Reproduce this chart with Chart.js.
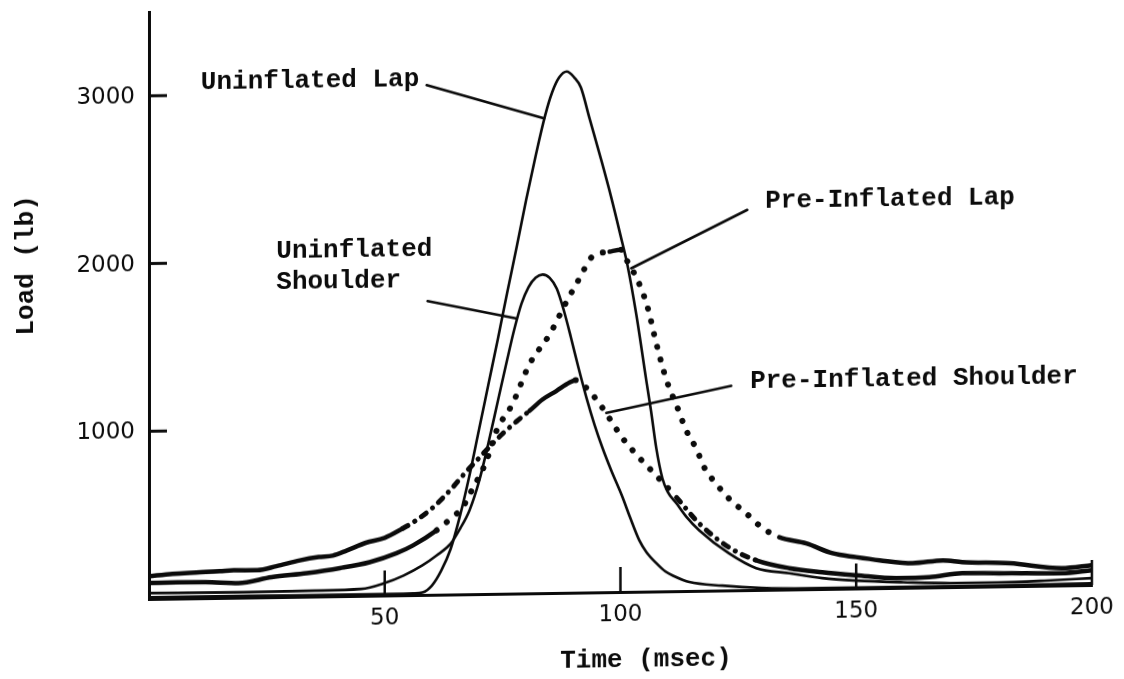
<!DOCTYPE html>
<html>
<head>
<meta charset="utf-8">
<title>Belt load vs time</title>
<script src="https://cdn.jsdelivr.net/npm/chart.js@4.4.1/dist/chart.umd.min.js"></script>
<style>
  html, body { margin: 0; padding: 0; background: #fff; overflow: hidden; }
  #wrap { width: 1124px; height: 679px; }
  /* the printed sheet sits a little out of square */
  #chart { display: block; transform: skewY(-0.85deg); transform-origin: 148px 599px; }
</style>
</head>
<body>
<div id="wrap"><canvas id="chart" width="1124" height="679"></canvas></div>
<script>
/* ─── Load (lb) against time (msec) for four belt configurations ─── */

const X_TICKS = [50, 100, 150, 200];
const Y_TICKS = [1000, 2000, 3000];

// Uninflated lap belt
const UL_TIME = [0, 20, 40, 52, 56, 58, 60, 62, 64, 66, 68, 70, 72, 74, 76, 78, 80, 82, 84, 85.5, 87, 88.6,
  90.2, 91.6, 93.4, 96, 98, 100, 101.5, 103.4, 105.5, 106.5, 107.6, 108.9, 110, 111.9, 114, 116.7, 123,
  128.8, 135.8, 142.8, 150, 160, 170, 180, 190, 200];
const UL_LOAD = [10, 10, 8, 8, 10, 15, 55, 144, 273, 472, 711, 981, 1250, 1519, 1798, 2067, 2346, 2606, 2845, 2984, 3073, 3108,
  3072, 3012, 2831, 2570, 2359, 2128, 1947, 1647, 1256, 1075, 855, 674, 594, 523, 442, 361, 221,
  130, 97, 65, 47, 33, 24, 24, 30, 41];

// Uninflated shoulder belt
const US_TIME = [0, 20, 35, 45, 50, 54, 58, 61, 64, 66, 68, 70, 72, 74, 76, 77.5, 79, 80.5, 82, 83.5, 85, 86.5,
  88, 89.5, 91, 92.8, 94.5, 96.2, 98, 100.4, 102, 104, 105.5, 107.6, 109.5, 111.5, 114.6, 121.6, 130, 140,
  160, 180, 200];
const US_LOAD = [35, 32, 35, 41, 74, 117, 176, 234, 303, 392, 501, 671, 900, 1149, 1398, 1577, 1727, 1826, 1881, 1900, 1879, 1814,
  1683, 1522, 1352, 1161, 1000, 860, 729, 568, 447, 306, 236, 169, 119, 88, 53, 29, 12, 6,
  5, 5, 10];

// Pre-inflated shoulder belt
const PS_TIME = [0, 5, 10, 15, 18, 23, 27, 32, 36, 39, 42, 46, 50, 53.8, 56, 60, 64.4, 67, 70.1, 72.5, 75, 78,
  80.7, 83.5, 86.4, 89.2, 90.5, 92.8, 95.6, 98.3, 100.4, 104, 107.6, 111.9, 116.7, 123, 128.8, 135.8,
  142.8, 150, 158.5, 165.5, 172.5, 183, 193.6, 200];
const PS_LOAD = [135, 148, 154, 159, 164, 162, 184, 217, 235, 242, 272, 316, 344, 398, 433, 515, 638, 722, 814, 885, 954, 1027,
  1088, 1155, 1204, 1253, 1267, 1219, 1123, 1009, 919, 799, 691, 558, 402, 257, 177, 127,
  100, 79, 58, 61, 82, 77, 73, 88];

// Pre-inflated lap belt
const PL_TIME = [0, 6, 12, 19, 26, 33.5, 40.5, 46.8, 52.5, 56, 61, 64, 66.5, 68.5, 71.6, 73.7, 77.1, 80.7, 85,
  88.6, 91.3, 94, 97.7, 100.2, 101.5, 103.6, 105.7, 107.6, 109.7, 112.1, 114, 116.1, 117.8, 120.3, 123,
  126.7, 130, 133.7, 139.4, 145, 150, 155, 162, 168.4, 172.5, 182.6, 193.6, 200];
const PL_LOAD = [95, 97, 96, 87, 119, 140, 167, 200, 251, 296, 384, 453, 518, 621, 795, 972, 1131, 1366, 1543,
  1738, 1873, 2001, 2030, 2041, 1969, 1861, 1701, 1480, 1265, 1093, 955, 847, 734, 637, 548,
  457, 372, 312, 273, 212, 187, 166, 146, 160, 148, 137, 103, 118];

const INK = '#0b0b0b';
const MONO = '"Liberation Mono", "Courier New", monospace';
const SANS = '"DejaVu Sans", sans-serif';

// how the pre-inflated pens change along the trace: [from msec, stroke]
const STROKES = {
  line:    { dash: [],              width: 4.5 },
  dots:    { dash: [0.1, 13],       width: 6 },
  dashdot: { dash: [6, 8, 0.1, 8],  width: 5 },
};
const PS_PEN = [[0, 'line'], [52, 'dashdot'], [80, 'line'], [91, 'dots'], [112, 'dashdot'], [128, 'line']];
const PL_PEN = [[0, 'line'], [60, 'dots'], [96, 'line'], [100.5, 'dots'], [132, 'line']];

// Callout text (placed in data units) with a leader to its curve
const CALLOUTS = [
  { lines: ['Uninflated Lap'],         at: [11, 3074],    from: [58.9, 3039],  to: [83.8, 2830] },
  { lines: ['Uninflated', 'Shoulder'], at: [27, 2060],    from: [59.1, 1751],  to: [78, 1640] },
  { lines: ['Pre-Inflated Lap'],       at: [130.7, 2315], from: [126.9, 2267], to: [102.3, 1929] },
  { lines: ['Pre-Inflated Shoulder'],  at: [127.5, 1246], from: [123.5, 1219], to: [97, 1069] },
];

const zip = (ts, vs) => ts.map((t, i) => ({ x: t, y: vs[i] }));

function penAt(pen, t) {
  let key = pen[0][1];
  pen.forEach(([from, k]) => { if (t >= from) key = k; });
  return STROKES[key];
}

// pre-inflated traces: heavy line in the tails, dots through the pulse
function preInflated(label, ts, vs, pen) {
  const mid = c => (c.p0.parsed.x + c.p1.parsed.x) / 2;
  return {
    label,
    data: zip(ts, vs),
    borderColor: INK,
    borderWidth: 4.5,
    borderCapStyle: 'round',
    borderJoinStyle: 'round',
    cubicInterpolationMode: 'monotone',
    pointRadius: 0,
    segment: {
      borderDash: c => penAt(pen, mid(c)).dash,
      borderWidth: c => penAt(pen, mid(c)).width,
    },
  };
}

function uninflated(label, ts, vs) {
  return {
    label,
    data: zip(ts, vs),
    borderColor: INK,
    borderWidth: 2.6,
    cubicInterpolationMode: 'monotone',
    pointRadius: 0,
  };
}

// inward tick marks, the y tick numbers and both axis titles
const axisMarks = {
  id: 'axisMarks',
  afterDraw(chart) {
    const { ctx, chartArea: a, scales: { x, y } } = chart;
    ctx.save();
    ctx.strokeStyle = INK;
    ctx.fillStyle = INK;
    ctx.lineWidth = 2.5;
    X_TICKS.forEach(t => {
      const px = x.getPixelForValue(t);
      ctx.beginPath(); ctx.moveTo(px, a.bottom); ctx.lineTo(px, a.bottom - 25); ctx.stroke();
    });
    ctx.lineWidth = 3;
    ctx.font = `23px ${SANS}`;
    ctx.textAlign = 'right';
    ctx.textBaseline = 'middle';
    Y_TICKS.forEach(v => {
      const py = y.getPixelForValue(v);
      ctx.beginPath(); ctx.moveTo(a.left, py); ctx.lineTo(a.left + 18, py); ctx.stroke();
      ctx.fillText(String(v), a.left - 14, py + 1);
    });

    ctx.font = `bold 26px ${MONO}`;
    ctx.textAlign = 'center';
    ctx.fillText('Time (msec)', a.left + 497, a.bottom + 68);

    ctx.translate(26, y.getPixelForValue(2000));
    ctx.rotate(-Math.PI / 2);
    ctx.fillText('Load (lb)', 0, 0);
    ctx.restore();
  },
};

const callouts = {
  id: 'callouts',
  afterDatasetsDraw(chart) {
    const { ctx, scales: { x, y } } = chart;
    ctx.save();
    ctx.fillStyle = INK;
    ctx.strokeStyle = INK;
    ctx.lineWidth = 2.6;
    ctx.lineCap = 'round';
    ctx.font = `bold 26px ${MONO}`;
    ctx.textAlign = 'left';
    ctx.textBaseline = 'middle';
    CALLOUTS.forEach(c => {
      const lx = x.getPixelForValue(c.at[0]);
      const ly = y.getPixelForValue(c.at[1]);
      c.lines.forEach((txt, i) => ctx.fillText(txt, lx, ly + i * 31));
      ctx.beginPath();
      ctx.moveTo(x.getPixelForValue(c.from[0]), y.getPixelForValue(c.from[1]));
      ctx.lineTo(x.getPixelForValue(c.to[0]), y.getPixelForValue(c.to[1]));
      ctx.stroke();
    });
    ctx.restore();
  },
};

new Chart(document.getElementById('chart').getContext('2d'), {
  type: 'line',
  data: {
    datasets: [
      uninflated('Uninflated Lap', UL_TIME, UL_LOAD),
      uninflated('Uninflated Shoulder', US_TIME, US_LOAD),
      preInflated('Pre-Inflated Shoulder', PS_TIME, PS_LOAD, PS_PEN),
      preInflated('Pre-Inflated Lap', PL_TIME, PL_LOAD, PL_PEN),
    ],
  },
  options: {
    responsive: false,
    devicePixelRatio: 1,
    animation: false,
    layout: { padding: { top: 12, right: 32, left: 0, bottom: 0 } },
    plugins: { legend: { display: false }, tooltip: { enabled: false } },
    scales: {
      x: {
        type: 'linear',
        min: 0,
        max: 200,
        border: { display: true, color: INK, width: 3 },
        grid: { display: false, drawTicks: false },
        ticks: {
          stepSize: 50,
          padding: 9,
          color: INK,
          autoSkip: false,
          maxRotation: 0,
          font: { family: SANS, size: 23 },
          callback: v => X_TICKS.includes(v) ? String(v) : '',
        },
        afterFit: s => { s.height = 80; },
      },
      y: {
        min: 0,
        max: 3500,
        border: { display: true, color: INK, width: 3 },
        grid: { display: false, drawTicks: false },
        ticks: { display: false, stepSize: 1000 },
        afterFit: s => { s.width = 149; },
      },
    },
  },
  plugins: [axisMarks, callouts],
});
</script>
</body>
</html>
